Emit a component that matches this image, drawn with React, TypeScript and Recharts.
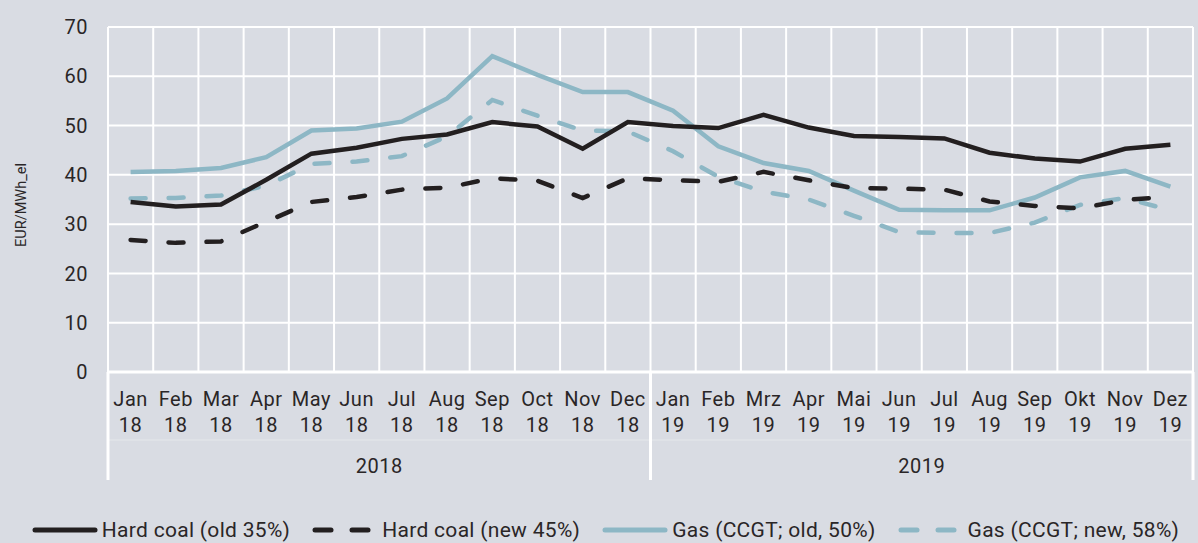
import React from 'react';
import { LineChart, Line, XAxis, YAxis, CartesianGrid, Legend } from 'recharts';

const months = ['Jan','Feb','Mar','Apr','May','Jun','Jul','Aug','Sep','Oct','Nov','Dec','Jan','Feb','Mrz','Apr','Mai','Jun','Jul','Aug','Sep','Okt','Nov','Dez'];
const yearShort = ['18','18','18','18','18','18','18','18','18','18','18','18','19','19','19','19','19','19','19','19','19','19','19','19'];
const yearGroups = ['2018', '2019'];

const hardCoalOld = [34.5,33.6,34.0,39.0,44.3,45.5,47.3,48.2,50.7,49.8,45.3,50.7,49.9,49.5,52.2,49.6,47.9,47.7,47.4,44.5,43.3,42.7,45.3,46.1];
const hardCoalNew = [26.8,26.2,26.5,30.5,34.5,35.5,37.0,37.4,39.3,38.8,35.3,39.3,38.9,38.6,40.6,38.9,37.3,37.2,37.0,34.6,33.7,33.2,34.9,35.6];
const gasOld = [40.6,40.8,41.4,43.6,49.0,49.4,50.8,55.5,64.1,60.3,56.8,56.8,53.0,45.8,42.4,40.8,36.8,32.9,32.8,32.8,35.4,39.5,40.8,37.6];
const gasNew = [35.2,35.3,35.8,37.8,42.2,42.7,43.8,47.8,55.2,52.0,49.0,48.8,44.8,39.6,36.6,35.0,31.7,28.4,28.2,28.2,30.3,33.9,35.3,32.8];

const yTicks = [0,10,20,30,40,50,60,70];

const data = months.map((m, i) => ({
  x: i + 0.5,
  hardCoalOld: hardCoalOld[i],
  hardCoalNew: hardCoalNew[i],
  gasOld: gasOld[i],
  gasNew: gasNew[i],
}));

const BLACK = '#231f20';
const BLUE = '#8db7c5';
const BG = '#d9dce3';
const TEXT = '#2a2627';
const FONT = 'Roboto, "Noto Sans", sans-serif';
const FS = 20;
const LS = 0.5;

const monthTicks = months.map((_, i) => i + 0.5);
const MONTH_AXIS_H = 68;

const MonthTick = (props: any) => {
  const { x, y, payload } = props;
  const i = Math.round(payload.value - 0.5);
  return (
    <g>
      <text x={x} y={y + 34} textAnchor="middle" fill={TEXT} fontSize={FS} letterSpacing={LS} fontFamily={FONT}>{months[i]}</text>
      <text x={x} y={y + 60} textAnchor="middle" fill={TEXT} fontSize={FS} letterSpacing={LS} fontFamily={FONT}>{yearShort[i]}</text>
    </g>
  );
};

const YearTick = (props: any) => {
  const { x, y, payload } = props;
  const v = payload.value;
  if (v % 12 === 0) {
    return <line x1={x} x2={x} y1={y - MONTH_AXIS_H} y2={y + 40} stroke="#ffffff" strokeWidth={3} />;
  }
  const label = yearGroups[Math.floor(v / 12)];
  return <text x={x} y={y + 33} textAnchor="middle" fill={TEXT} fontSize={FS} letterSpacing={LS} fontFamily={FONT}>{label}</text>;
};

const legendItems = [
  { name: 'Hard coal (old 35%)', color: BLACK, dashed: false },
  { name: 'Hard coal (new 45%)', color: BLACK, dashed: true },
  { name: 'Gas (CCGT; old, 50%)', color: BLUE, dashed: false },
  { name: 'Gas (CCGT; new, 58%)', color: BLUE, dashed: true },
];

const CustomLegend = () => (
  <div style={{ height: 56, display: 'flex', justifyContent: 'center', alignItems: 'flex-end', gap: 22, fontFamily: FONT, fontSize: 21, letterSpacing: 0.3, color: TEXT, paddingLeft: 18, boxSizing: 'border-box' }}>
    {legendItems.map((it) => (
      <div key={it.name} style={{ display: 'flex', alignItems: 'center', lineHeight: '24px', marginBottom: 1 }}>
        <svg width={it.dashed ? 60 : 66} height={10} style={{ marginRight: it.dashed ? 10 : 4 }}>
          {it.dashed ? (
            <>
              <line x1={3} x2={19} y1={5} y2={5} stroke={it.color} strokeWidth={5} strokeLinecap="round" />
              <line x1={40} x2={56} y1={5} y2={5} stroke={it.color} strokeWidth={5} strokeLinecap="round" />
            </>
          ) : (
            <line x1={3} x2={63} y1={5} y2={5} stroke={it.color} strokeWidth={5} strokeLinecap="round" />
          )}
        </svg>
        <span>{it.name}</span>
      </div>
    ))}
  </div>
);

const gridGenerator = (args: any) => {
  const { xAxis, offset } = args || {};
  const ks = Array.from({ length: 25 }, (_, k) => k);
  if (xAxis && typeof xAxis.scale === 'function') {
    return ks.map((k) => xAxis.scale(k));
  }
  return ks.map((k) => offset.left + (k * offset.width) / 24);
};

const YLabel = () => (
  <text x={21} y={205} transform="rotate(-90 21 205)" textAnchor="middle" dominantBaseline="central" fill={TEXT} fontSize={14.5} fontFamily={FONT}>EUR/MWh_el</text>
);

export default function App() {
  return (
    <div style={{ position: 'absolute', left: 0, top: 0, width: 1198, height: 543, background: BG }}>
      <LineChart width={1198} height={543} data={data} margin={{ top: 27, right: 5, bottom: 0, left: 0 }}>
        <CartesianGrid stroke="#ffffff" strokeWidth={2} verticalCoordinatesGenerator={gridGenerator} />
        <XAxis
          dataKey="x"
          type="number"
          domain={[0, 24]}
          ticks={monthTicks}
          interval={0}
          tick={<MonthTick />}
          tickLine={false}
          tickSize={0}
          tickMargin={0}
          axisLine={{ stroke: '#ffffff', strokeWidth: 3 }}
          height={MONTH_AXIS_H}
          allowDataOverflow
        />
        <XAxis
          xAxisId="year"
          dataKey="x"
          type="number"
          domain={[0, 24]}
          ticks={[0, 6, 12, 18, 24]}
          interval={0}
          tick={<YearTick />}
          tickLine={false}
          tickSize={0}
          tickMargin={0}
          axisLine={{ stroke: 'rgba(255,255,255,0.35)', strokeWidth: 1 }}
          height={47}
        />
        <YAxis
          domain={[0, 70]}
          ticks={yTicks}
          interval={0}
          width={108}
          tickLine={false}
          axisLine={false}
          tickSize={0}
          tickMargin={20}
          tick={{ fill: TEXT, fontSize: FS, fontFamily: FONT, letterSpacing: LS }}
          label={<YLabel />}
        />
        <Legend verticalAlign="bottom" content={() => <CustomLegend />} />
        <Line dataKey="gasNew" stroke={BLUE} strokeWidth={4.5} strokeDasharray="15 23" strokeLinecap="round" dot={false} isAnimationActive={false} />
        <Line dataKey="gasOld" stroke={BLUE} strokeWidth={4.5} dot={false} isAnimationActive={false} />
        <Line dataKey="hardCoalNew" stroke={BLACK} strokeWidth={4.5} strokeDasharray="15 23" strokeLinecap="round" dot={false} isAnimationActive={false} />
        <Line dataKey="hardCoalOld" stroke={BLACK} strokeWidth={4.5} dot={false} isAnimationActive={false} />
      </LineChart>
    </div>
  );
}
